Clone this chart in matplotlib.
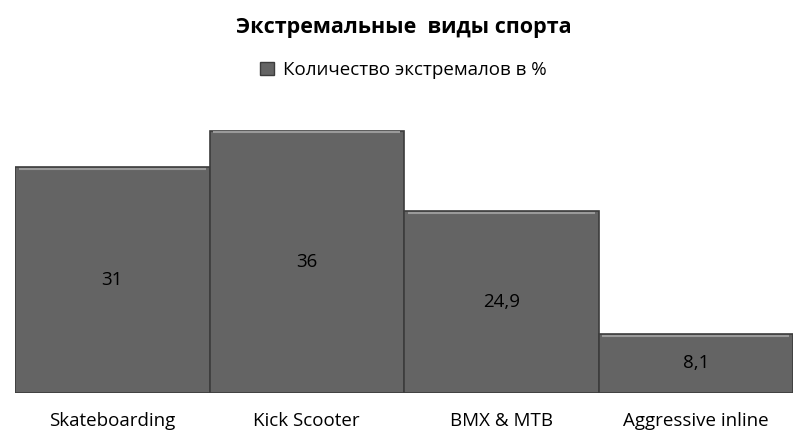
import matplotlib
matplotlib.use("Agg")
import matplotlib.pyplot as plt
from matplotlib.patches import Patch

plt.rcParams['font.family'] = ['Open Sans', 'DejaVu Sans']

categories = ["Skateboarding", "Kick Scooter", "BMX & MTB", "Aggressive inline"]
values = [31, 36, 24.9, 8.1]
value_labels = ["31", "36", "24,9", "8,1"]
title = "Экстремальные  виды спорта"
series_name = "Количество экстремалов в %"

fig = plt.figure(figsize=(8.07, 4.45), dpi=100)
ax = fig.add_axes([15/807, 1-393/445, (793-15)/807, (393-97)/445])

bars = ax.bar(range(len(categories)), values, width=1.0, color="#646464",
              edgecolor="#3c3c3c", linewidth=1.2)
# subtle top highlight
for b in bars:
    ax.plot([b.get_x()+0.02, b.get_x()+b.get_width()-0.02],
            [b.get_height()-0.25]*2, color="#9a9a9a", lw=1.5, solid_capstyle="butt")

for i, (v, lab) in enumerate(zip(values, value_labels)):
    ax.text(i, v/2, lab, ha="center", va="center", fontsize=13.5, color="black")

ax.set_xlim(-0.5, 3.5)
ax.set_ylim(0, 40.6)
ax.set_xticks(range(len(categories)))
ax.set_xticklabels(categories, fontsize=13.5)
ax.tick_params(axis="x", length=0, pad=14)
ax.set_yticks([])
for s in ax.spines.values():
    s.set_visible(False)

fig.text(0.5, 1-28/445, title, ha="center", va="center", fontsize=15.5, fontweight="bold")
fig.legend(handles=[Patch(facecolor="#646464", edgecolor="#3c3c3c", label=series_name)],
           loc="center", bbox_to_anchor=(0.5, 1-70/445), frameon=False, fontsize=13.5,
           handlelength=0.7, handleheight=0.7, handletextpad=0.5)

fig.savefig("out.png", dpi=100)
